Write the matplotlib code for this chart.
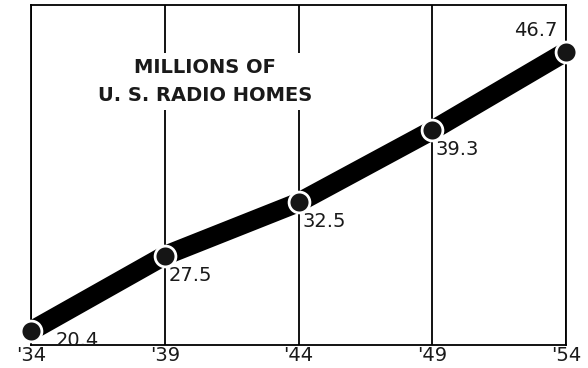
import numpy as np
import matplotlib
matplotlib.use("Agg")
import matplotlib.pyplot as plt

# radio homes in the U.S., millions
years = [1934, 1939, 1944, 1949, 1954]
homes = [20.4, 27.5, 32.5, 39.3, 46.7]
tick_labels = ["'34", "'39", "'44", "'49", "'54"]

fig = plt.figure(figsize=(5.88, 3.68), dpi=100)
ax = fig.add_axes([0.0527, 0.0625, 0.91, 0.924])

# vertical grid at every year
for yr in years:
    ax.axvline(yr, color="black", lw=1.3, zorder=1)

ax.plot(years, homes, color="black", lw=14, solid_capstyle="butt",
        zorder=3, clip_on=False)
ax.plot(years, homes, "o", ms=15, mfc="#151515", mec="white", mew=2,
        zorder=4, clip_on=False)

# value labels, offsets in points
offsets = [(18, -7, "left"), (3, -14, "left"), (3, -14, "left"),
           (2, -14, "left"), (-6, 15, "right")]
for x, y, (dx, dy, ha) in zip(years, homes, offsets):
    ax.annotate(f"{y:.1f}", (x, y), xytext=(dx, dy), textcoords="offset points",
                ha=ha, va="center", fontsize=14, color="#1a1a1a",
                family="DejaVu Sans", zorder=5)

# title sits on a white patch that breaks the grid lines
ax.text(0.325, 0.775, "MILLIONS OF\nU. S. RADIO HOMES", transform=ax.transAxes,
        ha="center", va="center", fontsize=14, fontweight="bold",
        linespacing=1.55, color="#1a1a1a", zorder=2,
        bbox=dict(facecolor="white", edgecolor="none", pad=4))

ax.set_xlim(1934, 1954)
ax.set_ylim(19.08, 51.1)
ax.set_xticks(years)
ax.set_xticklabels(tick_labels, fontsize=14, color="#1a1a1a")
ax.tick_params(axis="x", length=0, pad=1)
ax.set_yticks([])
for s in ax.spines.values():
    s.set_linewidth(1.3)

fig.savefig("out.png", dpi=100)
